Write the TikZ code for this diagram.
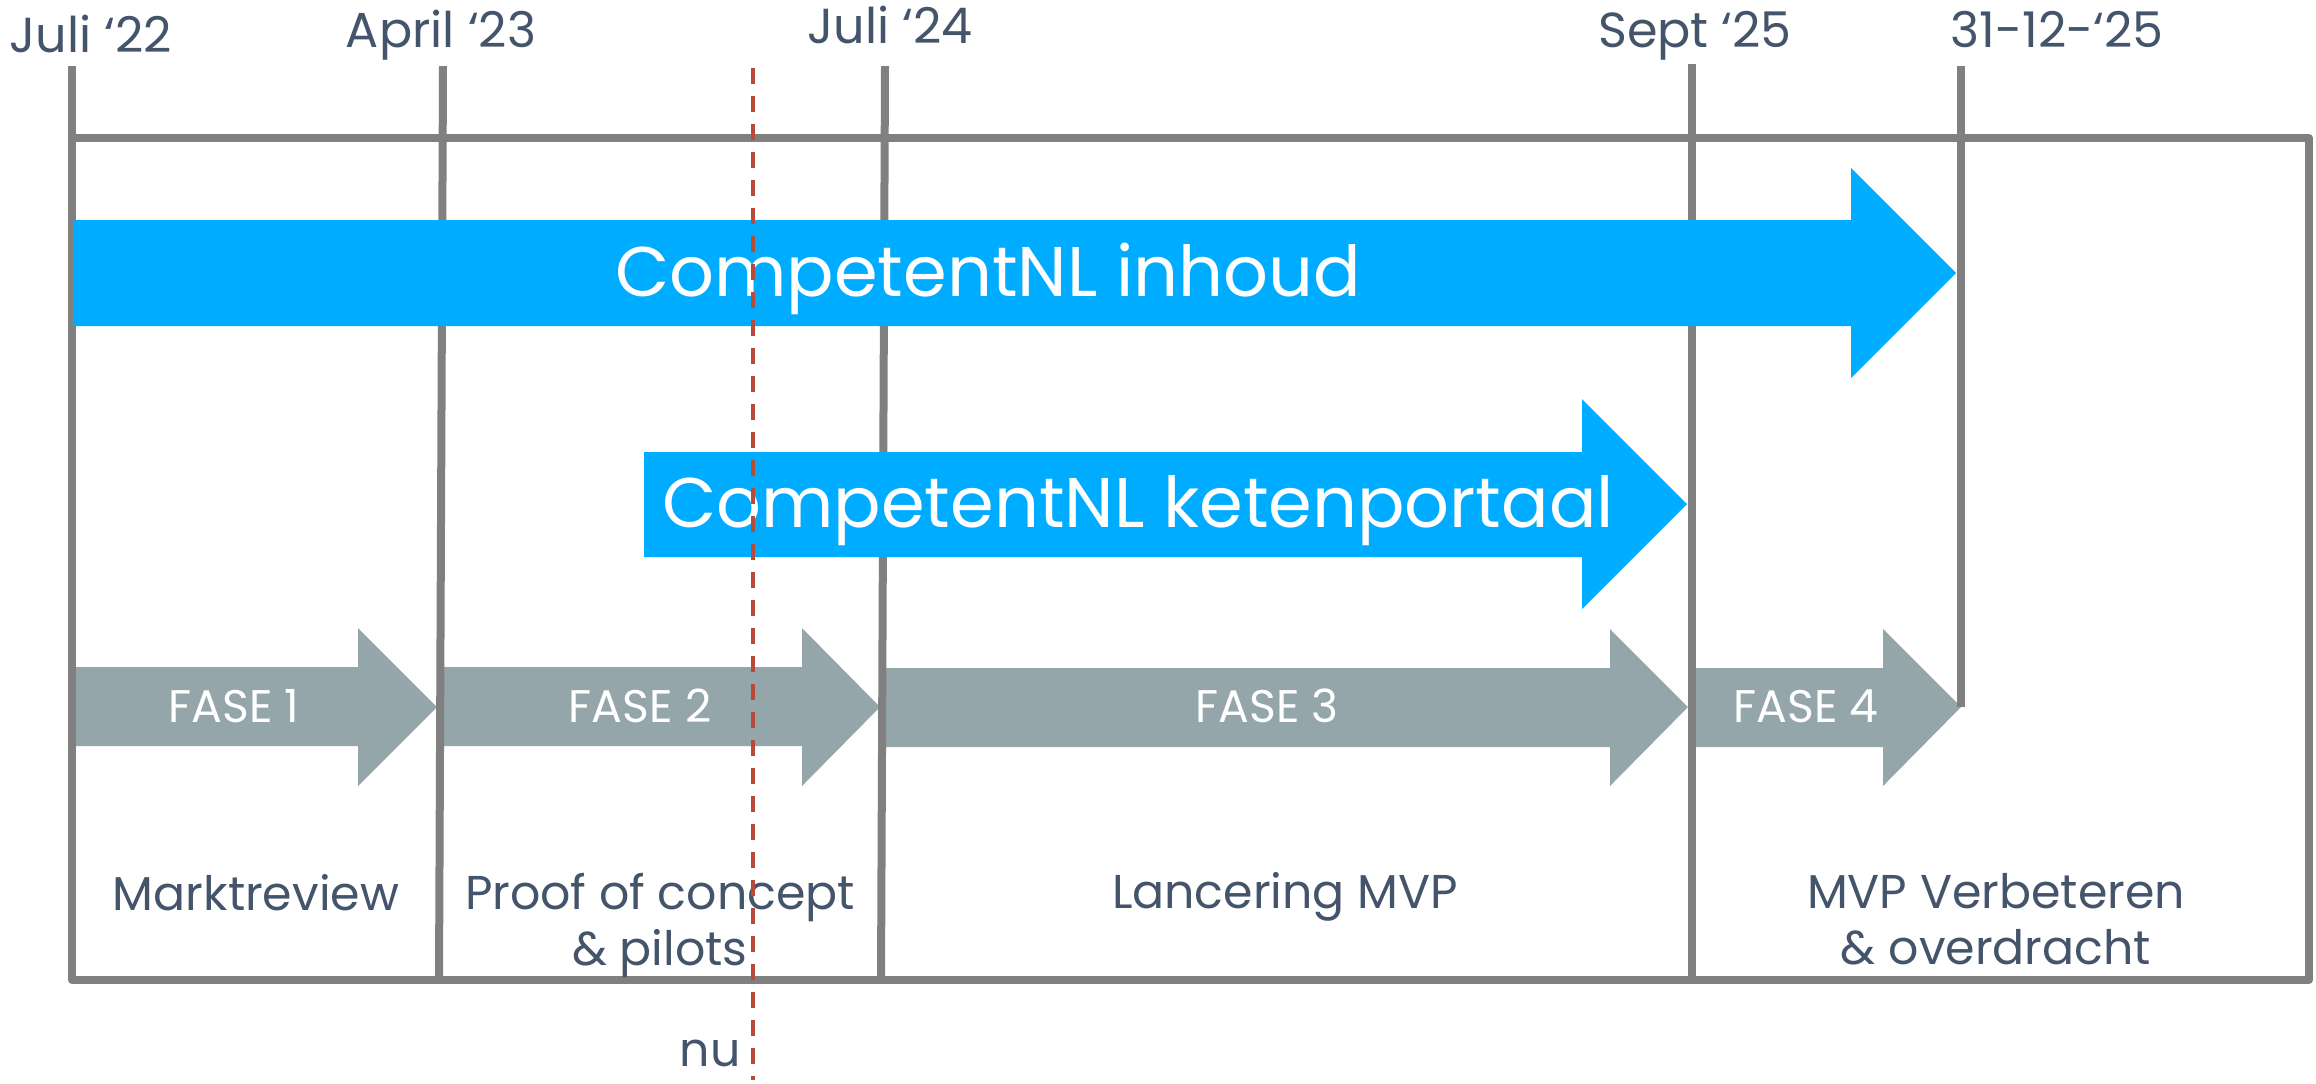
\documentclass[tikz,border=0pt]{standalone}
\usepackage{fontspec}
\setmainfont{Poppins}
\definecolor{txt}{HTML}{44546A}
\definecolor{cblue}{HTML}{00ACFF}
\definecolor{cgray}{HTML}{95A6AA}
\definecolor{cline}{HTML}{808080}
\definecolor{cred}{HTML}{B84A3A}
\begin{document}
\begin{tikzpicture}[x=0.1mm,y=-0.1mm,
  frameline/.style={draw=cline, line width=0.8mm, line join=round},
  phasearrow/.style={fill=cgray},
  mainarrow/.style={fill=cblue},
  nowline/.style={draw=cred, line width=0.4mm, dash pattern=on 1.6mm off 1.2mm},
  datelabel/.style={text=txt, font=\fontsize{14}{16}\selectfont, anchor=base, inner sep=0pt},
  steplabel/.style={text=txt, font=\fontsize{13.5}{15.8}\selectfont, anchor=base, align=center, inner sep=0pt},
  nowlabel/.style={text=txt, font=\fontsize{13.5}{15.8}\selectfont, anchor=base, inner sep=0pt},
  phaselabel/.style={text=white, font=\fontsize{13}{15}\selectfont, anchor=base, inner sep=0pt},
  bluelabel/.style={text=white, font=\fontsize{20}{24}\selectfont, anchor=base, inner sep=0pt}]
\useasboundingbox (0,0) rectangle (2316,1083);
% phase arrows
\fill[phasearrow] (76,667) -- (358,667) -- (358,628) -- (437,707) -- (358,786) -- (358,746) -- (76,746) -- cycle;
\fill[phasearrow] (443,667) -- (802,667) -- (802,628) -- (880,707) -- (802,786) -- (802,746) -- (443,746) -- cycle;
\fill[phasearrow] (886,668) -- (1610,668) -- (1610,629) -- (1688,707) -- (1610,786) -- (1610,747) -- (886,747) -- cycle;
\fill[phasearrow] (1696,668) -- (1883,668) -- (1883,629) -- (1961,707) -- (1883,786) -- (1883,747) -- (1696,747) -- cycle;
% frame and milestone lines
\draw[frameline] (72,66) -- (72,980) -- (2309,980) -- (2309,138) -- (72,138);
\draw[frameline] (443,66) -- (439,980);
\draw[frameline] (885,66) -- (881,980);
\draw[frameline] (1692,64) -- (1692,980);
\draw[frameline] (1961,66) -- (1961,707);
% blue arrows
\fill[mainarrow] (73,220) -- (1851,220) -- (1851,168) -- (1956,273) -- (1851,378) -- (1851,326) -- (73,326) -- cycle;
\fill[mainarrow] (644,452) -- (1582,452) -- (1582,399) -- (1687,504) -- (1582,609) -- (1582,557) -- (644,557) -- cycle;
\node[bluelabel] (inhoud) at (988,296) {CompetentNL inhoud};
\node[bluelabel] (keten) at (1138,527) {CompetentNL ketenportaal};
% date labels
\node[datelabel] (d1) at (91,52) {Juli ‘22};
\node[datelabel] (d2) at (441,47) {April ‘23};
\node[datelabel] (d3) at (890,43) {Juli ‘24};
\node[datelabel] (d4) at (1695,47) {Sept ‘25};
\node[datelabel] (d5) at (2057,47) {31-12-‘25};
% phase labels
\node[phaselabel] (f1) at (234,722) {FASE 1};
\node[phaselabel] (f2) at (640,722) {FASE 2};
\node[phaselabel] (f3) at (1267,722) {FASE 3};
\node[phaselabel] (f4) at (1806,722) {FASE 4};
% step labels
\node[steplabel] (s1) at (256,910) {Marktreview};
\node[steplabel] (s2) at (660,965) {Proof of concept\\ \& pilots};
\node[steplabel] (s3) at (1285,908) {Lancering MVP};
\node[steplabel] (s4) at (1996,964) {MVP Verbeteren\\ \& overdracht};
% now line
\draw[nowline] (753,68) -- (753,1080);
\node[nowlabel] (nu) at (710,1066) {nu};
\end{tikzpicture}
\end{document}
